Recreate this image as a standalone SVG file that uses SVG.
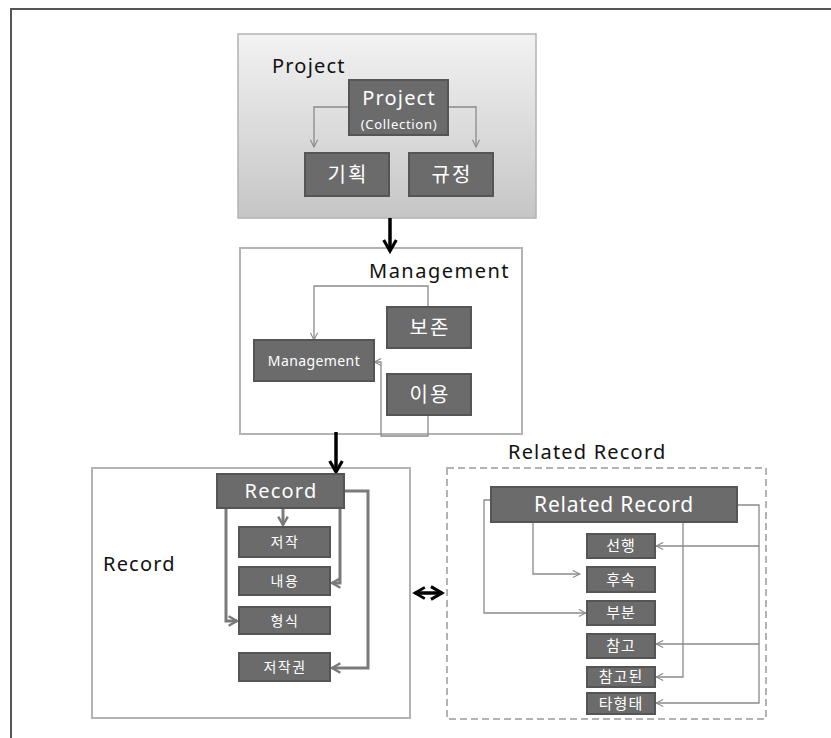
<svg xmlns="http://www.w3.org/2000/svg" width="831" height="738" viewBox="0 0 831 738">
<defs>
<linearGradient id="pg" x1="0" y1="0" x2="0" y2="1">
<stop offset="0" stop-color="#f2f2f2"/>
<stop offset="1" stop-color="#c6c6c6"/>
</linearGradient>
<marker id="open" viewBox="0 0 10 10" refX="9" refY="5" markerWidth="9" markerHeight="9" markerUnits="userSpaceOnUse" orient="auto">
<path d="M1,1 L9,5 L1,9" fill="none" stroke="#8a8a8a" stroke-width="1.2"/>
</marker>
<marker id="openT" viewBox="0 0 10 10" refX="8" refY="5" markerWidth="4" markerHeight="4" orient="auto">
<path d="M1,1 L8,5 L1,9" fill="none" stroke="#7a7a7a" stroke-width="2"/>
</marker>
<marker id="blk" viewBox="0 0 10 10" refX="8" refY="5" markerWidth="4.5" markerHeight="4.5" orient="auto">
<path d="M1,1 L8,5 L1,9" fill="none" stroke="#000" stroke-width="2"/>
</marker>
<marker id="blkS" viewBox="0 0 10 10" refX="2" refY="5" markerWidth="4" markerHeight="4" orient="auto">
<path d="M9,1 L2,5 L9,9" fill="none" stroke="#000" stroke-width="2"/>
</marker>
</defs>
<style>
text{font-family:"Noto Sans","Noto Sans CJK KR",sans-serif}
.n{fill:#6b6b6b;stroke:#555;stroke-width:2}
.wt{fill:#fff;text-anchor:middle}
.lbl{fill:#111;font-size:20px;letter-spacing:1.2px}
.k{font-size:20px;letter-spacing:2px}
.ks{font-size:14px;letter-spacing:1.5px}
.kr{font-size:15px;letter-spacing:1px}
.grp{fill:#fff;stroke:#b3b3b3;stroke-width:2}
.thin{fill:none;stroke:#8a8a8a;stroke-width:1.3}
.thick{fill:none;stroke:#7a7a7a;stroke-width:3}
.big{fill:none;stroke:#000;stroke-width:3.5}
</style>
<rect width="831" height="738" fill="#fff"/>
<path d="M11,738 V9 H831" fill="none" stroke="#555" stroke-width="2"/>

<g id="project-group">
<rect x="238" y="34" width="298" height="184" fill="url(#pg)" stroke="#b3b3b3" stroke-width="1.5"/>
<text x="272" y="73" class="lbl">Project</text>
</g>
<g id="management-group">
<rect x="240" y="248" width="282" height="186" class="grp"/>
<text x="369" y="278" class="lbl" style="letter-spacing:1.5px">Management</text>
</g>
<g id="record-group">
<rect x="92" y="468" width="318" height="250" class="grp"/>
<text x="103" y="571" class="lbl">Record</text>
</g>
<g id="related-group">
<rect x="447" y="468" width="319" height="251" fill="#fff" stroke="#b3b3b3" stroke-width="2" stroke-dasharray="7,4"/>
<text x="508" y="459" class="lbl">Related Record</text>
</g>

<g id="connectors">
<path class="thin" d="M349,107 H314 V147" marker-end="url(#open)"/>
<path class="thin" d="M448,107 H476 V147" marker-end="url(#open)"/>
<path class="big" d="M390,218 V251" marker-end="url(#blk)"/>
<path class="thin" d="M428,307 V286 H314 V340" marker-end="url(#open)"/>
<path class="thin" d="M428,415 V436 H381 V362 H374" marker-end="url(#open)"/>
<path class="big" d="M336,432 V472" marker-end="url(#blk)"/>
<path class="thick" d="M283,508 V525" marker-end="url(#openT)"/>
<path class="thick" d="M226,508 V621 H237" marker-end="url(#openT)"/>
<path class="thick" d="M340,492 V583 H332" marker-end="url(#openT)"/>
<path class="thick" d="M344,491 H368 V668 H332" marker-end="url(#openT)"/>
<path class="big" d="M415,593 H442" marker-start="url(#blkS)" marker-end="url(#blk)"/>
<path class="thin" d="M491,500 H484 V613 H586" marker-end="url(#open)"/>
<path class="thin" d="M533,522 V574 H580" marker-end="url(#open)"/>
<path class="thin" d="M683,522 V677 H656" marker-end="url(#open)"/>
<path class="thin" d="M737,505 H759 V703 H656" marker-end="url(#open)"/>
<path class="thin" d="M759,546 H656" marker-end="url(#open)"/>
<path class="thin" d="M759,644 H656" marker-end="url(#open)"/>
</g>

<g id="project-collection">
<rect x="349" y="80" width="99" height="55" class="n"/>
<text x="399" y="105" font-size="20" letter-spacing="1.2" class="wt">Project</text>
<text x="399" y="129" font-size="13" letter-spacing="0.7" class="wt">(Collection)</text>
</g>
<g id="gihoek"><rect x="305" y="153" width="84" height="43" class="n"/><text x="348" y="182" class="wt k">기획</text></g>
<g id="gyujeong"><rect x="409" y="153" width="84" height="43" class="n"/><text x="452" y="182" class="wt k">규정</text></g>

<g id="bojon"><rect x="387" y="307" width="84" height="41" class="n"/><text x="430" y="335" class="wt k">보존</text></g>
<g id="iyong"><rect x="387" y="374" width="84" height="41" class="n"/><text x="430" y="402" class="wt k">이용</text></g>
<g id="management"><rect x="254" y="340" width="120" height="41" class="n"/><text x="314" y="366" font-size="14" letter-spacing="0.4" class="wt">Management</text></g>

<g id="record"><rect x="217" y="474" width="127" height="34" class="n"/><text x="281" y="498" font-size="20" letter-spacing="1.2" class="wt">Record</text></g>
<g id="jeojak"><rect x="239" y="527" width="91" height="30" class="n"/><text x="285" y="547" class="wt ks">저작</text></g>
<g id="naeyong"><rect x="239" y="567" width="91" height="28" class="n"/><text x="285" y="586" class="wt ks">내용</text></g>
<g id="hyeongsik"><rect x="239" y="607" width="91" height="27" class="n"/><text x="285" y="626" class="wt ks">형식</text></g>
<g id="jeojakgwon"><rect x="239" y="653" width="91" height="28" class="n"/><text x="285" y="672" class="wt ks">저작권</text></g>

<g id="related-record"><rect x="491" y="487" width="246" height="35" class="n"/><text x="614" y="512" font-size="21" letter-spacing="0.8" class="wt">Related Record</text></g>
<g id="seonhaeng"><rect x="587" y="534" width="68" height="24" class="n"/><text x="621" y="551" class="wt kr">선행</text></g>
<g id="husok"><rect x="587" y="567" width="68" height="25" class="n"/><text x="621" y="585" class="wt kr">후속</text></g>
<g id="bubun"><rect x="587" y="601" width="68" height="24" class="n"/><text x="621" y="618" class="wt kr">부분</text></g>
<g id="chamgo"><rect x="587" y="634" width="68" height="24" class="n"/><text x="621" y="651" class="wt kr">참고</text></g>
<g id="chamgodoen"><rect x="587" y="667" width="68" height="20" class="n"/><text x="621" y="682" class="wt kr">참고된</text></g>
<g id="tahyeongtae"><rect x="587" y="693" width="68" height="21" class="n"/><text x="621" y="709" class="wt kr">타형태</text></g>
</svg>
